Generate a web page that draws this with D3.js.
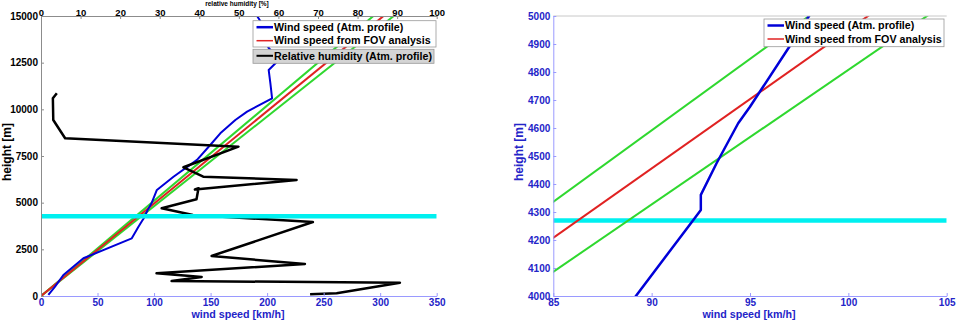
<!DOCTYPE html>
<html lang="en">
<head>
<meta charset="UTF-8">
<title>Wind speed vs height</title>
<script src="https://d3js.org/d3.v7.min.js"></script>
<style>
  body { margin: 0; background: #fff; }
  svg { display: block; font-family: "Liberation Sans", Arial, sans-serif; }
  .axis text { font-size: 10px; font-weight: bold; }
  .title { font-size: 10.7px; font-weight: bold; }
  .legend text { font-size: 10.7px; font-weight: bold; fill: #000; }
</style>
</head>
<body>
<svg width="959" height="326"></svg>
<script>
// wind speed profile from the atmosphere model
const windHeight = [54, 500, 1125, 2020, 3090, 3710, 4000, 4270, 4307, 4361, 4474, 4617, 4676, 4890, 5000,
  5680, 6390, 7290, 8090, 8715, 9430, 9875, 10590, 11393, 12107, 12643, 13312, 14732, 15000];
const windSpeed = [6.5, 12.4, 19.8, 37.5, 80.3, 86.2, 89.2, 92.1, 92.5, 92.5, 93.3, 94.4, 95.0, 97.0, 98.0,
  102.5, 117.2, 138, 149.7, 158.6, 171.9, 182.3, 204.4, 202.9, 201.4, 210.3, 201.1, 194, 191.1];

// relative humidity profile (top axis, %)
const rhHeight = [91, 145, 712, 804, 1018, 1071, 1216, 1714, 2143, 3964, 4339, 4698, 5180, 5770, 5705,
  6214, 6391, 6895, 7998, 8448, 9428, 10591, 10859];
const rhValue = [68.0, 74.7, 90.7, 33.0, 40.6, 37.7, 29.2, 66.7, 43.1, 68.7, 38.4, 30.5, 39.3, 39.8, 38.9,
  64.6, 41.0, 36.0, 49.9, 6.1, 3.1, 3.0, 4.0];

// wind speed from FOV analysis with its bounds
const fovHeight = [0, 15000];
const fovSpeed = [0, 303];
const fovLow = [0, 294];
const fovHigh = [0, 312];

const cloudHeight = 4270;

// tick labels
const leftSpeedTicks = [0, 50, 100, 150, 200, 250, 300, 350];
const leftHeightTicks = [0, 2500, 5000, 7500, 10000, 12500, 15000];
const rhTicks = [0, 10, 20, 30, 40, 50, 60, 70, 80, 90, 100];
const rightSpeedTicks = [85, 90, 95, 100, 105];
const rightHeightTicks = [4000, 4100, 4200, 4300, 4400, 4500, 4600, 4700, 4800, 4900, 5000];

const BLUE = "#0000d8", RED = "#e02222", GREEN = "#2fd82f", CYAN = "#00f0f0";
const AXBLUE = "#9a9aff", LABBLUE = "#2424c8", GRAY = "#8c8c8c";
const fmt = d3.format("d");

const svg = d3.select("svg");
const defs = svg.append("defs");

const xL = d3.scaleLinear().domain([0, 350]).range([41, 436.7]);
const rhX = d3.scaleLinear().domain([0, 100]).range([41, 436.7]);
const yL = d3.scaleLinear().domain([0, 15000]).range([296, 16]);
const xR = d3.scaleLinear().domain([85, 105]).range([553.3, 946.7]);
const yR = d3.scaleLinear().domain([4000, 5000]).range([296, 16]);

function clip(id, x, y) {
  defs.append("clipPath").attr("id", id).append("rect")
    .attr("x", x.range()[0]).attr("y", y.range()[1])
    .attr("width", x.range()[1] - x.range()[0])
    .attr("height", y.range()[0] - y.range()[1]);
}
clip("clipL", xL, yL);
clip("clipR", xR, yR);

const wind = windSpeed.map((v, i) => [v, windHeight[i]]);
const rh = rhValue.map((v, i) => [v, rhHeight[i]]);
const fov = fovSpeed.map((v, i) => [v, fovHeight[i]]);
const fovA = fovLow.map((v, i) => [v, fovHeight[i]]);
const fovB = fovHigh.map((v, i) => [v, fovHeight[i]]);

function drawLine(g, data, x, y, color, w) {
  g.append("path").datum(data)
    .attr("fill", "none").attr("stroke", color).attr("stroke-width", w)
    .attr("stroke-linejoin", "round")
    .attr("d", d3.line().x(d => x(d[0])).y(d => y(d[1])));
}

function cloudLine(g, x, y, w) {
  g.append("line")
    .attr("x1", x.range()[0]).attr("x2", x.range()[1])
    .attr("y1", y(cloudHeight)).attr("y2", y(cloudHeight))
    .attr("stroke", CYAN).attr("stroke-width", w);
}

function styleAxis(g, lineColor, textColor) {
  g.attr("class", "axis");
  g.select(".domain").attr("stroke", lineColor);
  g.selectAll(".tick line").attr("stroke", lineColor);
  g.selectAll(".tick text").attr("fill", textColor);
}

// ---------- left panel ----------
const gl = svg.append("g");
const plotL = gl.append("g").attr("clip-path", "url(#clipL)");
drawLine(plotL, fovA, xL, yL, GREEN, 2);
drawLine(plotL, fovB, xL, yL, GREEN, 2);
drawLine(plotL, fov, xL, yL, RED, 2);
drawLine(plotL, wind, xL, yL, BLUE, 2);
drawLine(plotL, rh, rhX, yL, "#000", 2.5);
cloudLine(plotL, xL, yL, 4.5);

gl.append("g").attr("transform", "translate(0,296)")
  .call(d3.axisBottom(xL).tickValues(leftSpeedTicks).tickFormat(fmt).tickSize(-3).tickSizeOuter(0).tickPadding(3))
  .call(g => styleAxis(g, AXBLUE, LABBLUE));
gl.append("g").attr("transform", "translate(41,0)")
  .call(d3.axisLeft(yL).tickValues(leftHeightTicks).tickFormat(fmt).tickSize(-3).tickSizeOuter(0).tickPadding(3))
  .call(g => styleAxis(g, GRAY, "#000"));
gl.append("g").attr("transform", "translate(0,16)")
  .call(d3.axisTop(rhX).tickValues(rhTicks).tickFormat(fmt).tickSize(-3).tickSizeOuter(0).tickPadding(0.5))
  .call(g => styleAxis(g, GRAY, "#000"))
  .call(g => g.selectAll(".tick text").style("font-size", "9.5px"));

gl.append("text").attr("class", "title").attr("x", 238).attr("y", 314)
  .attr("text-anchor", "middle").attr("dy", "0.35em").attr("fill", LABBLUE).text("wind speed [km/h]");
gl.append("text").attr("class", "title").style("font-size", "6.5px").attr("x", 237).attr("y", 5.6)
  .attr("text-anchor", "middle").attr("fill", "#000").text("relative humidity [%]");
gl.append("text").attr("class", "title").style("font-size", "12px")
  .attr("transform", "translate(10.5,152) rotate(-90)")
  .attr("text-anchor", "middle").attr("fill", "#000").text("height [m]");

// ---------- right panel ----------
const gr = svg.append("g");
const plotR = gr.append("g").attr("clip-path", "url(#clipR)");
cloudLine(plotR, xR, yR, 4.5);
drawLine(plotR, fovA, xR, yR, GREEN, 2);
drawLine(plotR, fovB, xR, yR, GREEN, 2);
drawLine(plotR, fov, xR, yR, RED, 2);
drawLine(plotR, wind, xR, yR, BLUE, 2.5);

gr.append("line").attr("x1", 553.3).attr("x2", 946.7).attr("y1", 16).attr("y2", 16)
  .attr("stroke", "#c8c8c8");
gr.append("g").attr("transform", "translate(0,296)")
  .call(d3.axisBottom(xR).tickValues(rightSpeedTicks).tickFormat(fmt).tickSize(-3).tickSizeOuter(0).tickPadding(3))
  .call(g => styleAxis(g, AXBLUE, LABBLUE));
gr.append("g").attr("transform", "translate(553.3,0)")
  .call(d3.axisLeft(yR).tickValues(rightHeightTicks).tickFormat(fmt).tickSize(-3).tickSizeOuter(0).tickPadding(3))
  .call(g => styleAxis(g, AXBLUE, LABBLUE));

gr.append("text").attr("class", "title").attr("x", 749).attr("y", 314)
  .attr("text-anchor", "middle").attr("dy", "0.35em").attr("fill", LABBLUE).text("wind speed [km/h]");
gr.append("text").attr("class", "title").style("font-size", "12px")
  .attr("transform", "translate(523,152) rotate(-90)")
  .attr("text-anchor", "middle").attr("fill", LABBLUE).text("height [m]");

// ---------- legends ----------
function legend(x, y, w, h, fill, items) {
  const g = svg.append("g").attr("class", "legend");
  g.append("rect").attr("x", x).attr("y", y).attr("width", w).attr("height", h)
    .attr("fill", fill).attr("stroke", "#999").attr("stroke-width", 0.8);
  items.forEach((it, i) => {
    const cy = y + 6.5 + i * 13.5;
    g.append("line").attr("x1", x + 3.5).attr("x2", x + 20).attr("y1", cy).attr("y2", cy)
      .attr("stroke", it.color).attr("stroke-width", it.w);
    g.append("text").attr("x", x + 21).attr("y", cy).attr("dy", "0.35em").text(it.label);
  });
}
legend(253, 20.7, 183, 26.3, "#fff", [
  { color: BLUE, w: 2.5, label: "Wind speed (Atm. profile)" },
  { color: RED, w: 1.5, label: "Wind speed from FOV analysis" }
]);
legend(253, 49.3, 181, 14, "#d4d4d4", [
  { color: "#000", w: 2, label: "Relative humidity (Atm. profile)" }
]);
legend(764, 19, 180, 27.7, "#fff", [
  { color: BLUE, w: 2.5, label: "Wind speed (Atm. profile)" },
  { color: RED, w: 1.5, label: "Wind speed from FOV analysis" }
]);
</script>
</body>
</html>
